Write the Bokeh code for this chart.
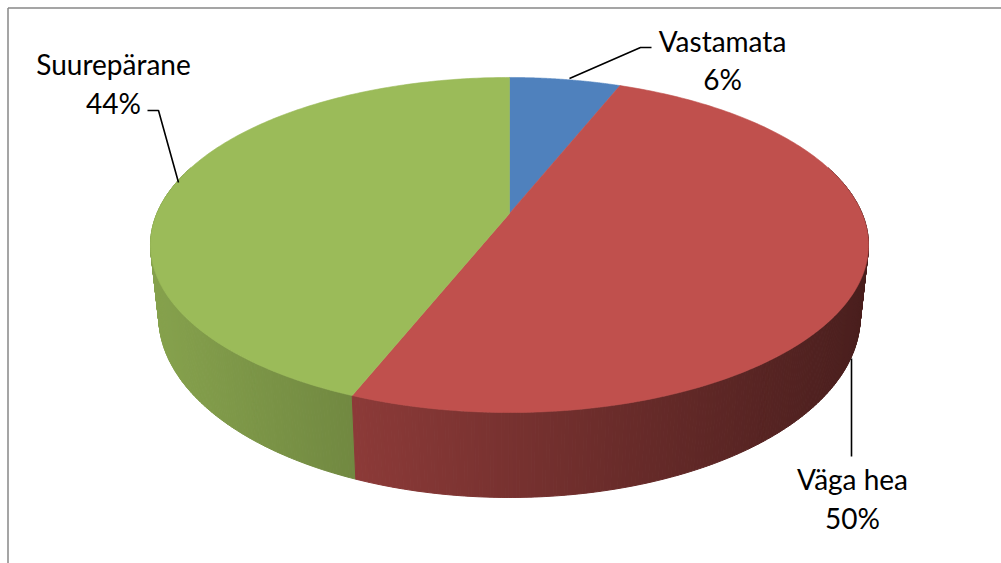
import numpy as np
from bokeh.plotting import figure
from bokeh.models import Range1d
from bokeh.embed import file_html
from bokeh.resources import INLINE
from bokeh.core.properties import value

# ---- data ----
categories = ["Vastamata", "Väga hea", "Suurepärane"]
values = [6, 50, 44]
top_colors = ["#4F81BD", "#C0504D", "#9BBB59"]

# ---- layout ----
W, H = 1001, 563
X0, Y0 = 509.0, 213.0          # projected centre of top face
A, B, K = 352.6, 161.6, 0.188  # perspective ellipse parameters
DEPTH = 69.0
A_BOT = A * 0.977

label_pos = [(722, 40, 78), (852, 478, 517), (113, 63, 102)]
leaders = [
    ([651, 640, 569], [47, 47, 78]),
    ([851, 851], [358, 456]),
    ([147, 158, 178], [110, 110, 182]),
]

p = figure(width=W, height=H, x_range=Range1d(0, W), y_range=Range1d(H, 0),
           output_backend="svg", toolbar_location=None, min_border=0)
p.axis.visible = False
p.grid.visible = False
p.outline_line_color = None
p.background_fill_color = "white"
p.border_fill_color = "white"


def proj(theta, a=A, dy=0.0):
    u, w = np.sin(theta), np.cos(theta)
    d = 1 + K * w
    return X0 + a * u / d, Y0 - B * w / d + dy / d


def hex2rgb(h):
    h = h.lstrip("#")
    return [int(h[i:i + 2], 16) for i in (0, 2, 4)]


def shade(h, x):
    f = 0.87 - 0.00068 * (x - 152)
    r, g, b = [max(0, min(255, int(c * f))) for c in hex2rgb(h)]
    return "#%02x%02x%02x" % (r, g, b)


total = float(sum(values))
bounds = np.concatenate([[0.0], np.cumsum(values)]) / total * 2 * np.pi

# ---- side walls ----
strips = []
for i, col in enumerate(top_colors):
    a0, a1 = bounds[i], bounds[i + 1]
    n = max(2, int(np.degrees(a1 - a0) / 0.5) + 1)
    th = np.linspace(a0, a1, n)
    for j in range(n - 1):
        t1, t2 = th[j], th[j + 1]
        mid = 0.5 * (t1 + t2)
        if np.cos(mid) > 0.3:
            continue
        xt1, yt1 = proj(t1)
        xt2, yt2 = proj(t2)
        xb2, yb2 = proj(t2, A_BOT, DEPTH)
        xb1, yb1 = proj(t1, A_BOT, DEPTH)
        xm = 0.25 * (xt1 + xt2 + xb1 + xb2)
        strips.append((np.cos(mid), [xt1, xt2, xb2, xb1], [yt1, yt2, yb2, yb1], shade(col, xm)))
strips.sort(key=lambda s: -s[0])
p.patches([s[1] for s in strips], [s[2] for s in strips],
          fill_color=[s[3] for s in strips], line_color=[s[3] for s in strips], line_width=1)

# ---- top faces ----
txs, tys = [], []
for i in range(len(values)):
    th = np.linspace(bounds[i], bounds[i + 1], 200)
    x, y = proj(th)
    txs.append([X0] + list(x))
    tys.append([Y0] + list(y))
p.patches(txs, tys, fill_color=top_colors, line_color=top_colors, line_width=0.6)

# ---- leader lines ----
for lx, ly in leaders:
    p.line(lx, ly, line_color="black", line_width=1.6)

# ---- labels ----
for (lx, y1, y2), name, v in zip(label_pos, categories, values):
    p.text([lx, lx], [y1, y2], text=[name, f"{v}%"], text_align="center", text_baseline="middle",
           text_font=value("Lato"), text_font_size="28px", text_color="black")

# ---- chart frame ----
p.line([7.5, 7.5], [H, 7.5], line_color="#878787", line_width=1.5)
p.line([7.5, W], [7.5, 7.5], line_color="#878787", line_width=1.5)

open("out.html", "w").write(file_html(p, INLINE))
